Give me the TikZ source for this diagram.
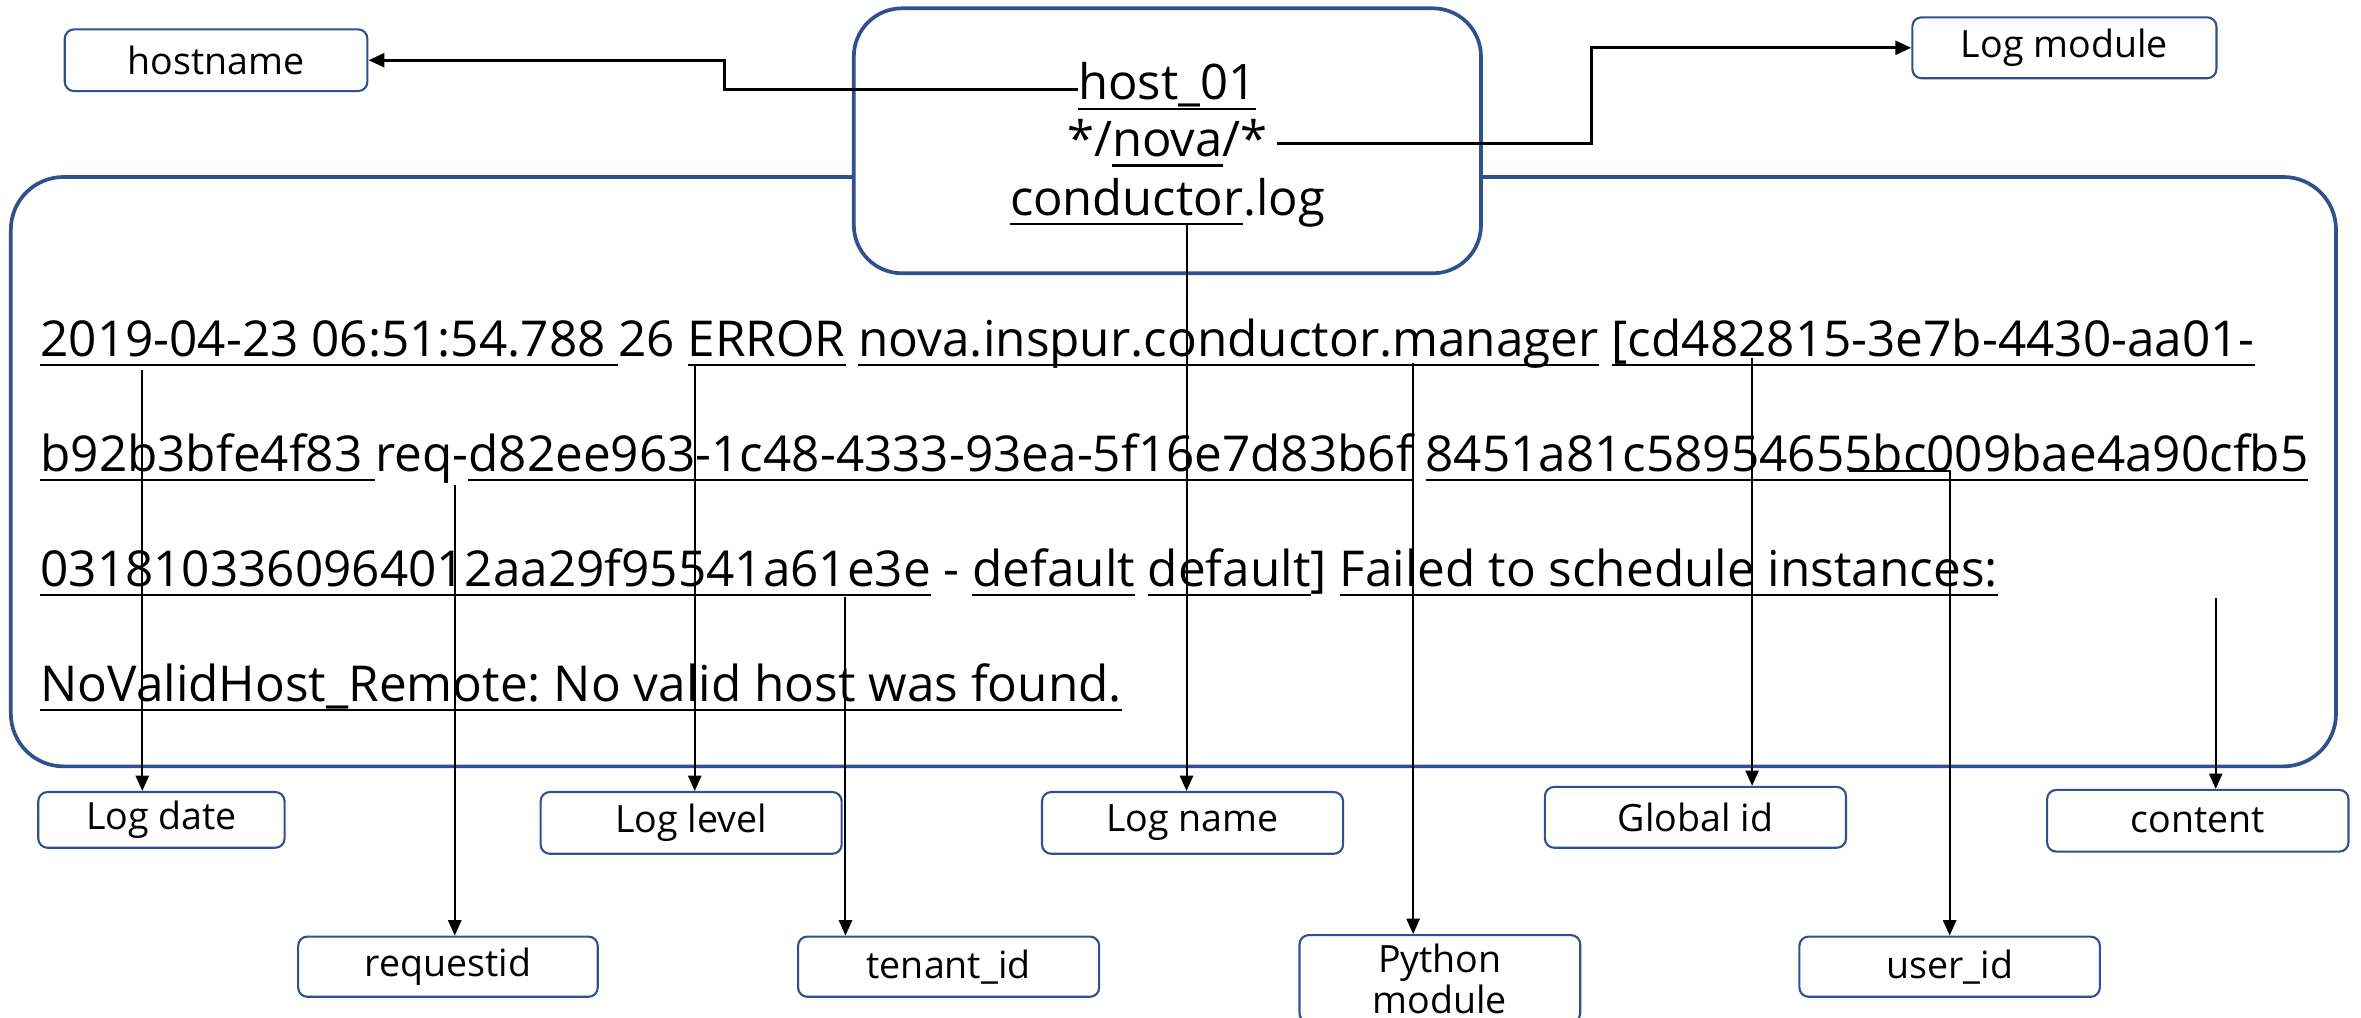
\documentclass[tikz,border=0pt]{standalone}
\usepackage{fontspec}
\setmainfont{Open Sans}
\frenchspacing
\usetikzlibrary{arrows.meta}
\definecolor{bord}{RGB}{47,82,143}
\newsavebox\ulbox
\newcommand\ul[1]{\sbox\ulbox{#1}\rlap{\rule[-3.8pt]{\wd\ulbox}{0.85pt}}\usebox\ulbox}
\begin{document}
\begin{tikzpicture}[x=0.02cm,y=-0.02cm,
  lbl/.style={draw=bord, line width=0.8pt, rounded corners=3.5pt, fill=white, inner sep=0pt,
    font=\fontsize{14.2pt}{15.5pt}\selectfont, align=center},
  conn/.style={line width=0.75pt, -{Triangle[length=5.8pt,width=5pt]}},
  elbow/.style={line width=1.1pt, -{Triangle[length=6pt,width=5.2pt]}},
  logtxt/.style={anchor=base west, inner sep=0pt, font=\fontsize{18.7pt}{22pt}\selectfont},
  ctr/.style={anchor=base, inner sep=0pt, font=\fontsize{18.5pt}{22pt}\selectfont},
  bigbox/.style={draw=bord, line width=1.4pt, fill=white, inner sep=0pt}]

\path[use as bounding box, clip] (0,0) rectangle (1568,676);

% containers
\node[bigbox, rounded corners=0.7cm, minimum width=30.89cm, minimum height=7.83cm] (logbox) at (779.3,313.25) {};
\node[bigbox, rounded corners=0.64cm, minimum width=8.332cm, minimum height=3.52cm] (srcbox) at (775.3,93.5) {};

% file path text
\node[ctr] (host) at (775.3,66.4) {\ul{host\_01}};
\node[ctr] (nova) at (775.3,104) {*/\ul{nova}/*};
\node[ctr] (cond) at (775.3,142.8) {\ul{conductor}.log};

% log text
\node[logtxt] (l1) at (26.5,236.5) {\ul{2019-04-23 06:51:54.788 }26 \ul{ERROR} \ul{nova.inspur.conductor.manager} \ul{[cd482815-3e7b-4430-aa01-}};
\node[logtxt] (l2) at (26.5,312.9) {\ul{b92b3bfe4f83 }req-\ul{d82ee963-1c48-4333-93ea-5f16e7d83b6f} \ul{8451a81c58954655bc009bae4a90cfb5}};
\node[logtxt] (l3) at (26.5,389.3) {\ul{0318103360964012aa29f95541a61e3e} - \ul{default} \ul{default}] \ul{Failed to schedule instances:}};
\node[logtxt] (l4) at (26.5,465.7) {\ul{NoValidHost\_Remote: No valid host was found.}};

% labels
\node[lbl, minimum width=4.02cm, minimum height=0.82cm] (hostname) at (143.5,40) {hostname};
\node[lbl, minimum width=4.04cm, minimum height=0.81cm] (logmodule) at (1371,31.75) {Log module};
\node[lbl, minimum width=3.272cm, minimum height=0.74cm] (logdate) at (107.2,544.5) {Log date};
\node[lbl, minimum width=4.0cm, minimum height=0.82cm] (loglevel) at (459,546.5) {Log level};
\node[lbl, minimum width=4.0cm, minimum height=0.82cm] (logname) at (792,546.5) {Log name};
\node[lbl, minimum width=4.0cm, minimum height=0.808cm] (globalid) at (1126,542.8) {Global id};
\node[lbl, minimum width=4.004cm, minimum height=0.82cm] (content) at (1459.6,545.1) {content};
\node[lbl, minimum width=3.98cm, minimum height=0.80cm] (requestid) at (297.5,642) {requestid};
\node[lbl, minimum width=4.0cm, minimum height=0.80cm] (tenantid) at (630,642) {tenant\_id};
\node[lbl, minimum width=3.73cm, minimum height=1.16cm] (python) at (956.25,650) {Python\\module};
\node[lbl, minimum width=3.992cm, minimum height=0.80cm] (userid) at (1294.8,642) {user\_id};

% connector anchors
\coordinate (hs) at ([yshift=4pt]host.base west);
\coordinate (hx) at (481,0);
\coordinate (ns) at ([xshift=3.5pt,yshift=4.8pt]nova.base east);
\coordinate (mx) at (1057,0);
\coordinate (lns) at (788,149.5);
\coordinate (lds) at (94.5,246);
\coordinate (rqs) at (302,322);
\coordinate (lls) at (461.4,242.4);
\coordinate (tns) at (561.5,396.5);
\coordinate (pys) at (938.5,241);
\coordinate (gis) at (1163.6,238);
\coordinate (uis) at (1228,313);
\coordinate (uix) at (1294.8,0);
\coordinate (cts) at (1471.5,397);

% connectors
\draw[elbow] (hs) -- (hs -| hx) |- (hostname.east);
\draw[elbow] (ns) -- (ns -| mx) |- (logmodule.west);
\draw[conn] (lns) -- (lns |- logname.north);
\draw[conn] (lds) -- (lds |- logdate.north);
\draw[conn] (rqs) -- (rqs |- requestid.north);
\draw[conn] (lls) -- (lls |- loglevel.north);
\draw[conn] (tns) -- (tns |- tenantid.north);
\draw[conn] (pys) -- (pys |- python.north);
\draw[conn] (gis) -- (gis |- globalid.north);
\draw[conn] (uis) -- (uis -| uix) -- (userid.north);
\draw[conn] (cts) -- (cts |- content.north);
\end{tikzpicture}
\end{document}
